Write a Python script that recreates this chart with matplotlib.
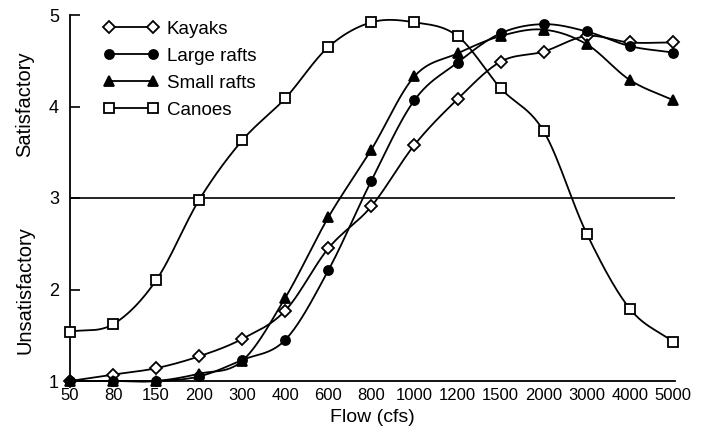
import numpy as np
import matplotlib

matplotlib.use("Agg")
import matplotlib.pyplot as plt
from matplotlib.lines import Line2D
from matplotlib.transforms import blended_transform_factory

plt.rcParams["font.family"] = ["Liberation Sans", "DejaVu Sans"]

flows = ["50", "80", "150", "200", "300", "400", "600", "800", "1000",
         "1200", "1500", "2000", "3000", "4000", "5000"]
kayaks = [1.0, 1.07, 1.14, 1.27, 1.46, 1.77, 2.45, 2.91, 3.58, 4.08, 4.49, 4.60, 4.77, 4.70, 4.70]
large_rafts = [1.0, 1.0, 1.0, 1.05, 1.23, 1.45, 2.21, 3.19, 4.07, 4.48, 4.80, 4.90, 4.82, 4.66, 4.59]
small_rafts = [1.0, 1.0, 1.0, 1.08, 1.22, 1.91, 2.79, 3.53, 4.33, 4.58, 4.77, 4.84, 4.68, 4.29, 4.07]
canoes = [1.54, 1.62, 2.10, 2.98, 3.63, 4.09, 4.65, 4.92, 4.92, 4.77, 4.20, 3.73, 2.61, 1.79, 1.43]


def smooth(xs, ys, n=24):
    # Catmull-Rom curve through the points, just for drawing the line
    xs = np.asarray(xs, float)
    ys = np.asarray(ys, float)
    px = np.concatenate([[2 * xs[0] - xs[1]], xs, [2 * xs[-1] - xs[-2]]])
    py = np.concatenate([[2 * ys[0] - ys[1]], ys, [2 * ys[-1] - ys[-2]]])
    t = np.linspace(0, 1, n, endpoint=False)
    out_x, out_y = [], []
    for i in range(1, len(px) - 2):
        for p, out in ((px, out_x), (py, out_y)):
            p0, p1, p2, p3 = p[i - 1], p[i], p[i + 1], p[i + 2]
            out.extend(0.5 * (2 * p1 + (-p0 + p2) * t
                              + (2 * p0 - 5 * p1 + 4 * p2 - p3) * t ** 2
                              + (-p0 + 3 * p1 - 3 * p2 + p3) * t ** 3))
    out_x.append(xs[-1])
    out_y.append(ys[-1])
    return np.array(out_x), np.array(out_y)


fig = plt.figure(figsize=(7.09, 4.37), dpi=100)
ax = fig.add_axes([70 / 709, 1 - 381 / 437, 605 / 709, 366 / 437])

x = np.arange(len(flows))
series = [
    ("Kayaks", kayaks, "D", "white", 6.5),
    ("Large rafts", large_rafts, "o", "black", 6.5),
    ("Small rafts", small_rafts, "^", "black", 7.5),
    ("Canoes", canoes, "s", "white", 6.5),
]

ax.axhline(3, color="black", lw=1.2, zorder=1)

handles = []
for label, vals, marker, face, ms in series:
    sx, sy = smooth(x, vals)
    ax.plot(sx, sy, color="black", lw=1.3, zorder=2, clip_on=False)
    ax.plot(x, vals, linestyle="none", marker=marker, markersize=ms,
            markerfacecolor=face, markeredgecolor="black", markeredgewidth=1.3,
            zorder=3, clip_on=False)
    handles.append(Line2D([], [], color="black", lw=1.3, marker=marker,
                          markersize=ms, markerfacecolor=face,
                          markeredgecolor="black", markeredgewidth=1.3,
                          label=label))

ax.set_xlim(0, 14.05)
ax.set_ylim(1, 5)
ax.set_xticks(x)
ax.set_xticklabels(flows, fontsize=12)
ax.set_yticks([1, 2, 3, 4, 5])
ax.tick_params(axis="x", length=0, pad=5)
ax.tick_params(axis="y", direction="in", length=7, width=1.2, labelsize=13, pad=8)

for side in ("top", "right"):
    ax.spines[side].set_visible(False)
for side in ("left", "bottom"):
    ax.spines[side].set_linewidth(1.3)

ax.set_xlabel("Flow (cfs)", fontsize=14, labelpad=4)

trans = blended_transform_factory(ax.transAxes, ax.transData)
ax.text(-0.075, 4.02, "Satisfactory", rotation=90, fontsize=14.5,
        ha="center", va="center", transform=trans)
ax.text(-0.075, 1.99, "Unsatisfactory", rotation=90, fontsize=14.5,
        ha="center", va="center", transform=trans)

ax.legend(handles=handles, loc="upper left", bbox_to_anchor=(0.028, 1.03),
          frameon=False, numpoints=2, handlelength=2.9, handletextpad=0.45,
          labelspacing=0.52, fontsize=13.5)

fig.savefig("out.png", dpi=100)
